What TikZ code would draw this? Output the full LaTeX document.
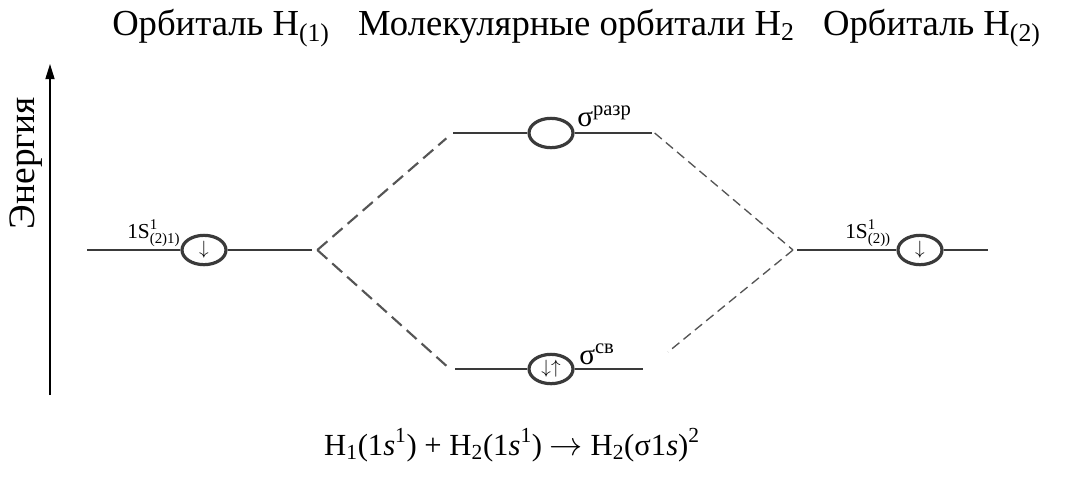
\documentclass[tikz,border=0pt]{standalone}
\usepackage{fontspec}
\setmainfont{Liberation Serif}
\usepackage{amsmath}
\usepackage{tikz}
\usetikzlibrary{arrows.meta,positioning,shapes.geometric}
\definecolor{lvlc}{HTML}{3A3A3A}
\definecolor{dshc}{HTML}{555555}
\tikzset{
  >={Triangle[length=4mm,width=2.4mm]},
  lvl/.style={draw=lvlc,line width=2pt},
  orb/.style={ellipse,draw=lvlc,line width=2.4pt,fill=white,minimum width=33pt,minimum height=22pt,inner sep=0pt,font=\fontsize{15}{15}\selectfont},
  dshL/.style={draw=dshc,line width=1.6pt,dash pattern=on 10pt off 5pt},
  dshR/.style={draw=dshc,line width=1pt,dash pattern=on 7pt off 4pt},
  ttl/.style={font=\fontsize{27.5}{30}\selectfont,anchor=base west,inner sep=0pt},
  slab/.style={font=\fontsize{16}{18}\selectfont,anchor=base west,inner sep=0pt},
  mlab/.style={font=\fontsize{22}{24}\selectfont,anchor=base west,inner sep=0pt},
}
\begin{document}
\begin{tikzpicture}[x=0.75pt,y=-0.75pt]
  \useasboundingbox (0,0) rectangle (1073,480);
  % headings
  \node[ttl] (t1) at (112,35) {Орбиталь H\textsubscript{(1)}};
  \node[ttl,right=21pt of t1.base east,anchor=base west] (t2) {Молекулярные орбитали H\textsubscript{2}};
  \node[ttl,right=21pt of t2.base east,anchor=base west] (t3) {Орбиталь H\textsubscript{(2)}};
  % energy axis
  \coordinate (ax0) at (50,395);
  \coordinate (ax1) at (50,64);
  \draw[->,line width=1.1pt] (ax0) -- (ax1);
  \node[font=\fontsize{28}{30}\selectfont,rotate=90,inner sep=0pt] (en) at (26,163) {Энергия};
  % atomic level H(1)
  \coordinate (La) at (87,250);
  \coordinate (Lb) at (312,250);
  \node[orb] (oL) at (204,250) {$\downarrow$};
  \draw[lvl] (La) -- (oL) (oL) -- (Lb);
  \node[slab] (sL) at (127,238) {1S$^{\text{1}}_{\text{(2)1)}}$};
  % atomic level H(2)
  \coordinate (Ra) at (797,250);
  \coordinate (Rb) at (988,250);
  \node[orb] (oR) at (920,250) {$\downarrow$};
  \draw[lvl] (Ra) -- (oR) (oR) -- (Rb);
  \node[slab] (sR) at (845,238) {1S$^{\text{1}}_{\text{(2))}}$};
  % antibonding
  \coordinate (Ta) at (453,133);
  \coordinate (Tb) at (652,133);
  \node[orb] (oT) at (551,133) {};
  \draw[lvl] (Ta) -- (oT) (oT) -- (Tb);
  \node[mlab] (sT) at (577,126) {σ\textsuperscript{разр}};
  % bonding
  \coordinate (Ba) at (455,369);
  \coordinate (Bb) at (643,369);
  \node[orb] (oB) at (551,369) {$\downarrow\uparrow$};
  \draw[lvl] (Ba) -- (oB) (oB) -- (Bb);
  \node[mlab] (sB) at (579,364) {σ\textsuperscript{св}};
  % correlation lines
  \coordinate (Be) at (668,352);
  \draw[dshL] ([xshift=4pt]Lb) -- ([xshift=-5pt,yshift=-4pt]Ta);
  \draw[dshL] ([xshift=4pt]Lb) -- ([xshift=-6pt,yshift=2pt]Ba);
  \draw[dshR] ([xshift=2pt]Tb) -- ([xshift=-3pt]Ra);
  \draw[dshR] ([xshift=-3pt]Ra) -- (Be);
  % reaction
  \node[font=\fontsize{23}{26}\selectfont,anchor=base,inner sep=0pt] (eq) at (512,455) {H\textsubscript{1}(1\textit{s}\textsuperscript{1}) + H\textsubscript{2}(1\textit{s}\textsuperscript{1}) $\rightarrow$ H\textsubscript{2}(σ1\textit{s})\textsuperscript{2}};
\end{tikzpicture}
\end{document}
